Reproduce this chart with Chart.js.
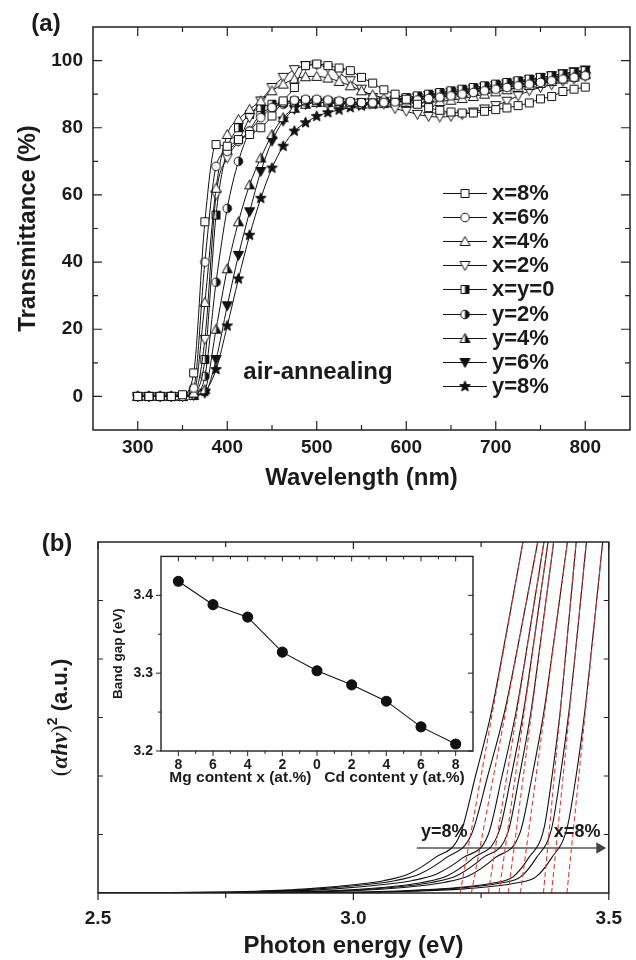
<!DOCTYPE html>
<html><head><meta charset="utf-8">
<script src="https://cdn.jsdelivr.net/npm/chart.js@4.4.1/dist/chart.umd.min.js"></script>
<style>
html,body{margin:0;padding:0;background:#fff;}
#wrap{position:relative;width:636px;height:960px;overflow:hidden;background:#fff;}
canvas{position:absolute;}
</style></head><body>
<div id="wrap">
<canvas id="ca" width="636" height="500" style="left:0;top:0"></canvas>
<canvas id="cb" width="636" height="465" style="left:0;top:495px"></canvas>
<canvas id="cc" width="390" height="250" style="left:100px;top:540px"></canvas>
</div>
<script>
// ================= DATA: panel (a) =================
const wavelength = [300,312.5,325,337.5,350,362.5,375,387.5,400,412.5,425,437.5,450,462.5,475,487.5,500,512.5,525,537.5,550,562.5,575,587.5,600,612.5,625,637.5,650,662.5,675,687.5,700,712.5,725,737.5,750,762.5,775,787.5,800];
const T_x8  = [0,0,0,0,0.5,7,52,75,74.5,76.5,78,80,83.5,88,92,98.5,99,98.5,97.8,97,95,93.3,91.3,90,88.5,87,86,85.2,84.7,84.4,84.4,84.9,85.4,85.9,86.6,87.4,88.6,89.3,90.8,91.5,92.1];
const T_x6  = [0,0,0,0,0,2.5,40,68.5,73,76,79,83,86,87.5,88.2,88.5,88.5,88.3,88,87.8,87.5,87.4,87.5,87.7,88,88.3,88.7,89.1,89.5,90,90.5,91,91.5,92,92.5,93,93.5,94,94.5,95,95.5];
const T_x4  = [0,0,0,0,0,1,28,62,78,82.5,85.5,88,91,93,94.5,95.2,95.3,94.8,93.8,92.5,91,89.8,88.8,88,87.5,87.4,87.5,87.8,88.2,88.7,89.3,90,90.7,91.3,92,92.6,93.2,93.8,94.5,95.1,95.8];
const T_x2  = [0,0,0,0,0,0.5,17,60,71,76,83,88,92,95,97.3,98.5,98.7,97.8,96.3,94,91.5,89,87,85.7,84.9,84,83.4,83.2,83.4,83.9,84.7,85.6,86.6,87.9,89.5,91,92,92.8,93.8,94.5,95.3];
const T_x0y0= [0,0,0,0,0,1,11,54,73.5,80,84,86,87,87.5,88,88.2,88.2,88,87.8,87.6,87.5,87.6,87.9,88.4,89,89.5,90,90.5,91,91.5,92,92.5,93,93.5,94,94.5,95,95.5,96,96.5,97];
const T_y2  = [0,0,0,0,0,0.5,6,34,56,70,79,84,86,87,87.5,87.7,87.6,87.4,87.2,87,87,87.2,87.5,88,88.5,89,89.5,90,90.5,91,91.5,92,92.5,93,93.5,94,94.5,95,95.5,96,96.5];
const T_y4  = [0,0,0,0,0,0.3,2,20,38,52,63,71,78,83,85.8,87,87.5,87.5,87.3,87.1,87,87.1,87.3,87.6,88,88.5,89,89.5,90,90.5,91,91.5,92,92.5,93,93.5,94,94.5,95,95.5,96];
const T_y6  = [0,0,0,0,0,0.3,1,11,27,42,55,67,76,82,85.5,87,87.5,87.6,87.5,87.4,87.4,87.5,87.8,88.2,88.6,89.1,89.6,90.1,90.6,91.1,91.6,92.1,92.6,93.1,93.7,94.3,94.9,95.5,96.1,96.7,97.2];
const T_y8  = [0,0,0,0,0,0.3,1.5,8,21,35,48,59,68,74.5,79,81.5,83.4,84.5,85.3,86,86.5,87,87.3,87.6,88,88.4,88.8,89.2,89.7,90.2,90.7,91.2,91.7,92.2,92.7,93.2,93.7,94.2,94.7,95.2,95.7];
const sampleLabels = ['x=8%','x=6%','x=4%','x=2%','x=y=0','y=2%','y=4%','y=6%','y=8%'];
const xTicksA = [300,400,500,600,700,800];
const yTicksA = [0,20,40,60,80,100];

// ================= DATA: panel (b) =================
// Tauc curves (photon energy eV, (alpha h nu)^2 a.u.), ordered y=8% ... x=8%
const tauc_y8   = [[2.5,0],[2.709,0.01],[2.809,0.03],[2.909,0.07],[3.009,0.15],[3.059,0.21],[3.109,0.33],[3.159,0.6],[3.209,1.0],[3.239,2.0],[3.269,3.05],[3.299,4.42],[3.329,5.86],[3.349,6.83]];
const tauc_y6   = [[2.5,0],[2.731,0.01],[2.831,0.03],[2.931,0.07],[3.031,0.15],[3.081,0.21],[3.131,0.33],[3.181,0.6],[3.231,1.0],[3.263,2.0],[3.296,3.1],[3.326,4.4],[3.356,5.78],[3.376,6.7]];
const tauc_y4   = [[2.5,0],[2.764,0.01],[2.864,0.03],[2.964,0.07],[3.064,0.15],[3.114,0.21],[3.164,0.33],[3.214,0.6],[3.264,1.0],[3.291,2.0],[3.319,3.12],[3.344,4.42],[3.369,5.78],[3.389,6.88]];
const tauc_y2   = [[2.5,0],[2.785,0.01],[2.885,0.02],[2.985,0.05],[3.085,0.12],[3.135,0.18],[3.185,0.3],[3.235,0.6],[3.285,1.05],[3.309,2.0],[3.333,3.1],[3.355,4.4],[3.377,5.75],[3.395,6.88]];
const tauc_x0y0 = [[2.5,0],[2.803,0.01],[2.903,0.02],[3.003,0.05],[3.103,0.12],[3.153,0.18],[3.203,0.3],[3.253,0.6],[3.303,1.05],[3.325,2.0],[3.348,3.12],[3.368,4.4],[3.388,5.73],[3.403,6.74]];
const tauc_x2   = [[2.5,0],[2.827,0.01],[2.927,0.02],[3.027,0.05],[3.127,0.12],[3.177,0.18],[3.227,0.3],[3.277,0.6],[3.327,1.05],[3.35,2.0],[3.373,3.1],[3.394,4.4],[3.415,5.74],[3.432,6.85]];
const tauc_x4   = [[2.5,0],[2.873,0.005],[2.973,0.01],[3.073,0.03],[3.173,0.07],[3.273,0.17],[3.313,0.28],[3.343,0.6],[3.373,1.1],[3.389,2.0],[3.405,3.12],[3.419,4.4],[3.433,5.7],[3.445,6.84]];
const tauc_x6   = [[2.5,0],[2.888,0.005],[2.988,0.01],[3.088,0.03],[3.188,0.07],[3.288,0.17],[3.328,0.28],[3.358,0.6],[3.388,1.1],[3.405,2.0],[3.422,3.1],[3.438,4.4],[3.453,5.72],[3.466,6.86]];
const tauc_x8   = [[2.5,0],[2.918,0.005],[3.018,0.01],[3.118,0.03],[3.218,0.07],[3.318,0.17],[3.358,0.28],[3.388,0.6],[3.418,1.1],[3.436,2.0],[3.453,3.1],[3.469,4.4],[3.485,5.74],[3.498,6.86]];
// linear fits: x-intercept (band gap) and energy where fit reaches the top of the frame (y = 6)
const fitIntercept = [3.209,3.231,3.264,3.285,3.303,3.327,3.372,3.388,3.418];
const fitTopE      = [3.332,3.361,3.373,3.381,3.392,3.419,3.436,3.456,3.488];
const xTicksB = [2.5,3.0,3.5];
const arrowFrom = [3.124,0.77], arrowTo = [3.482,0.77];

// Inset: band gap vs content
const insetX = [0,1,2,3,4,5,6,7,8];
const insetTickLabels = ['8','6','4','2','0','2','4','6','8'];
const bandGap = [3.418,3.388,3.372,3.327,3.303,3.285,3.264,3.231,3.209];
const insetYTicks = [3.2,3.3,3.4];

// ================= helpers =================
const FONT = '"Liberation Sans", Arial, Helvetica, sans-serif';
const INK = '#1b1b1b';
Chart.defaults.font.family = FONT;
Chart.defaults.color = INK;

function makeMarker(shape, fill) {
  const s = 13, c = document.createElement('canvas'); c.width = s; c.height = s;
  const g = c.getContext('2d'); const m = 6.5;
  g.lineWidth = 1; g.strokeStyle = '#111';
  const path = () => { g.beginPath();
    if (shape === 'square') g.rect(m-4, m-4, 8, 8);
    else if (shape === 'circle') g.arc(m, m, 4.3, 0, 2*Math.PI);
    else if (shape === 'tri') { g.moveTo(m, m-5); g.lineTo(m+5, m+4); g.lineTo(m-5, m+4); g.closePath(); }
    else if (shape === 'tridown') { g.moveTo(m, m+5); g.lineTo(m+5, m-4); g.lineTo(m-5, m-4); g.closePath(); }
    else if (shape === 'star') { for (let i=0;i<10;i++){ const r = i%2?2.4:5.6; const a = -Math.PI/2 + i*Math.PI/5; const x=m+r*Math.cos(a), y=m+r*Math.sin(a); if(i) g.lineTo(x,y); else g.moveTo(x,y);} g.closePath(); }
  };
  path(); g.fillStyle = fill === 'full' ? '#111' : '#fff'; g.fill();
  if (fill === 'half') { g.save(); path(); g.clip(); g.fillStyle = '#111'; g.fillRect(m, 0, m, s); g.restore(); }
  path(); g.stroke();
  return c;
}

function frameTicks(o) {
  return { id: 'frameTicks', afterDatasetsDraw(chart) {
    const ctx = chart.ctx, a = chart.chartArea, xs = chart.scales.x, ys = chart.scales.y;
    ctx.save();
    ctx.strokeStyle = '#222'; ctx.lineWidth = o.tickWidth || 1.2;
    ctx.beginPath();
    const xt = (vals, len) => vals.forEach(v => { const p = xs.getPixelForValue(v);
      if (o.bottom) { ctx.moveTo(p, a.bottom); ctx.lineTo(p, a.bottom - o.bottom*len); }
      if (o.top) { ctx.moveTo(p, a.top); ctx.lineTo(p, a.top + o.top*len); } });
    const yt = (vals, len) => vals.forEach(v => { const p = ys.getPixelForValue(v);
      if (o.left) { ctx.moveTo(a.left, p); ctx.lineTo(a.left + o.left*len, p); }
      if (o.right) { ctx.moveTo(a.right, p); ctx.lineTo(a.right - o.right*len, p); } });
    xt(o.xMajor, o.xMajorLen); xt(o.xMinor, o.xMinorLen);
    yt(o.yMajor, o.yMajorLen); yt(o.yMinor, o.yMinorLen);
    ctx.stroke();
    ctx.lineWidth = o.frameWidth || 1.5;
    ctx.strokeRect(a.left, a.top, a.right - a.left, a.bottom - a.top);
    ctx.restore();
  }};
}
function textPlugin(items) {
  return { id: 'texts', afterDraw(chart) {
    const ctx = chart.ctx; ctx.save(); ctx.fillStyle = INK; ctx.textBaseline = 'middle';
    items.forEach(t => { ctx.font = t.font; ctx.textAlign = t.align || 'center';
      let x = t.x, y = t.y;
      if (t.data) { x = chart.scales.x.getPixelForValue(t.data[0]); y = chart.scales.y.getPixelForValue(t.data[1]); }
      ctx.fillText(t.text, x, y); });
    ctx.restore();
  }};
}

// ================= Chart (a) =================
const seriesA = [T_x8, T_x6, T_x4, T_x2, T_x0y0, T_y2, T_y4, T_y6, T_y8];
const markersA = [makeMarker('square','open'), makeMarker('circle','open'), makeMarker('tri','open'), makeMarker('tridown','open'),
  makeMarker('square','half'), makeMarker('circle','half'), makeMarker('tri','half'), makeMarker('tridown','full'), makeMarker('star','full')];

const legendA = { id: 'legendA', afterDraw(chart) {
  const ctx = chart.ctx; ctx.save();
  chart.data.datasets.forEach((ds, i) => {
    const y = 193 + i*24.1;
    ctx.strokeStyle = '#111'; ctx.lineWidth = 1;
    ctx.beginPath(); ctx.moveTo(443, Math.round(y)+0.5); ctx.lineTo(487, Math.round(y)+0.5); ctx.stroke();
    const img = ds.pointStyle; ctx.drawImage(img, 465 - 6.5, Math.round(y) - 6);
    ctx.fillStyle = INK; ctx.font = 'bold 22px ' + FONT; ctx.textAlign = 'left'; ctx.textBaseline = 'middle';
    ctx.fillText(ds.label, 492, y + 1);
  });
  ctx.restore();
}};

new Chart(document.getElementById('ca'), {
  type: 'scatter',
  data: { datasets: seriesA.map((arr, i) => ({
    label: sampleLabels[i],
    data: wavelength.map((w, j) => ({ x: w, y: arr[j] })),
    showLine: true, borderColor: '#111', borderWidth: 1, cubicInterpolationMode: 'monotone',
    pointStyle: markersA[i], pointRadius: 5
  })) },
  options: {
    responsive: false, animation: false, devicePixelRatio: 1,
    layout: { padding: { top: 27, right: 3, left: 0, bottom: 0 } },
    plugins: { legend: { display: false }, tooltip: { enabled: false } },
    scales: {
      x: { type: 'linear', min: 250, max: 850,
        afterFit(s) { s.height = 70; }, afterBuildTicks(s) { s.ticks = xTicksA.map(v => ({ value: v })); },
        grid: { display: false, drawTicks: false }, border: { display: false },
        ticks: { padding: 6, font: { size: 19, weight: 'bold' }, color: INK, maxRotation: 0, autoSkip: false, callback: v => String(v) },
        title: { display: true, text: 'Wavelength (nm)', font: { size: 24, weight: 'bold' }, color: INK, padding: { top: 0, bottom: 7 } } },
      y: { type: 'linear', min: -10, max: 110,
        afterFit(s) { s.width = 93; }, afterBuildTicks(s) { s.ticks = yTicksA.map(v => ({ value: v })); },
        grid: { display: false, drawTicks: false }, border: { display: false },
        ticks: { padding: 10, font: { size: 19, weight: 'bold' }, color: INK, callback: v => String(v) },
        title: { display: true, text: 'Transmittance (%)', font: { size: 24, weight: 'bold' }, color: INK, padding: { top: 14, bottom: 0 } } }
    }
  },
  plugins: [
    frameTicks({ bottom: 1, top: 1, left: 1, right: 1,
      xMajor: xTicksA, xMinor: [350,450,550,650,750], xMajorLen: 9, xMinorLen: 5,
      yMajor: yTicksA, yMinor: [10,30,50,70,90], yMajorLen: 9, yMinorLen: 5, frameWidth: 1.5 }),
    legendA,
    textPlugin([
      { text: '(a)', x: 46, y: 24, font: 'bold 24px ' + FONT },
      { text: 'air-annealing', x: 318, y: 372, font: 'bold 24px ' + FONT }
    ])
  ]
});

// ================= Chart (b) =================
const taucCurves = [tauc_y8, tauc_y6, tauc_y4, tauc_y2, tauc_x0y0, tauc_x2, tauc_x4, tauc_x6, tauc_x8];
const dsB = [];
fitIntercept.forEach((e0, i) => dsB.push({
  data: [{ x: e0, y: 0 }, { x: fitTopE[i], y: 6 }], showLine: true,
  borderColor: '#e8382f', borderWidth: 1.1, borderDash: [5, 3], pointRadius: 0 }));
taucCurves.forEach(c => dsB.push({
  data: c.map(p => ({ x: p[0], y: p[1] })), showLine: true,
  borderColor: '#111', borderWidth: 1.1, cubicInterpolationMode: 'monotone', pointRadius: 0 }));
dsB.push({ data: [{ x: arrowFrom[0], y: arrowFrom[1] }, { x: arrowTo[0], y: arrowTo[1] }], showLine: true,
  borderColor: '#555', borderWidth: 1.6, pointRadius: [0, 5], pointStyle: 'triangle', rotation: 90,
  pointBackgroundColor: '#444', pointBorderColor: '#444' });

const yTitleB = { id: 'yTitleB', afterDraw(chart) {
  const ctx = chart.ctx, a = chart.chartArea; ctx.save();
  ctx.translate(61, (a.top + a.bottom) / 2); ctx.rotate(-Math.PI / 2);
  ctx.fillStyle = INK; ctx.textBaseline = 'middle'; ctx.textAlign = 'left';
  const parts = [['(', '23px "Liberation Serif"', 0], ['\u03B1h\u03BD', 'italic bold 23px "Liberation Serif"', 0], [')', '23px "Liberation Serif"', 0],
    ['2', 'bold 14px ' + FONT, -8], [' (a.u.)', 'bold 22px ' + FONT, 0]];
  let w = 0; parts.forEach(p => { ctx.font = p[1]; w += ctx.measureText(p[0]).width; });
  let x = -w / 2; parts.forEach(p => { ctx.font = p[1]; ctx.fillText(p[0], x, p[2]); x += ctx.measureText(p[0]).width; });
  ctx.restore();
}};

new Chart(document.getElementById('cb'), {
  type: 'scatter',
  data: { datasets: dsB },
  options: {
    responsive: false, animation: false, devicePixelRatio: 1,
    layout: { padding: { top: 47, right: 19, left: 0, bottom: 0 } },
    plugins: { legend: { display: false }, tooltip: { enabled: false } },
    scales: {
      x: { type: 'linear', min: 2.5, max: 3.5,
        afterFit(s) { s.height = 67; }, afterBuildTicks(s) { s.ticks = xTicksB.map(v => ({ value: v })); },
        grid: { display: false, drawTicks: false }, border: { display: false },
        ticks: { padding: 14, font: { size: 19, weight: 'bold' }, color: INK, maxRotation: 0, autoSkip: false, callback: v => v.toFixed(1) },
        title: { display: true, text: 'Photon energy (eV)', font: { size: 24, weight: 'bold' }, color: INK, padding: { top: 0, bottom: -1 } } },
      y: { type: 'linear', min: 0, max: 6,
        afterFit(s) { s.width = 98; },
        grid: { display: false, drawTicks: false }, border: { display: false },
        ticks: { display: false }, title: { display: false } }
    }
  },
  plugins: [
    frameTicks({ bottom: -1, top: 1, left: 1, right: 1,
      xMajor: xTicksB, xMinor: [2.75, 3.25], xMajorLen: 7, xMinorLen: 5,
      yMajor: [1,2,3,4,5], yMinor: [], yMajorLen: 5, yMinorLen: 3, frameWidth: 1.5 }),
    yTitleB,
    textPlugin([
      { text: '(b)', x: 57, y: 49, font: 'bold 24px ' + FONT },
      { text: 'y=8%', data: [3.178, 1.04], font: 'bold 18px ' + FONT },
      { text: 'x=8%', data: [3.438, 1.04], font: 'bold 18px ' + FONT }
    ])
  ]
});

// ================= Inset =================
new Chart(document.getElementById('cc'), {
  type: 'scatter',
  data: { datasets: [{ data: insetX.map((x, i) => ({ x: x, y: bandGap[i] })), showLine: true,
    borderColor: '#111', borderWidth: 1.1, pointRadius: 5, pointBackgroundColor: '#111', pointBorderColor: '#111' }] },
  options: {
    responsive: false, animation: false, devicePixelRatio: 1,
    layout: { padding: { top: 12, right: 17, left: 0, bottom: 0 } },
    plugins: { legend: { display: false }, tooltip: { enabled: false } },
    scales: {
      x: { type: 'linear', min: -0.5, max: 8.5,
        afterFit(s) { s.height = 39; }, afterBuildTicks(s) { s.ticks = insetX.map(v => ({ value: v })); },
        grid: { display: false, drawTicks: false }, border: { display: false },
        ticks: { padding: 6, font: { size: 14, weight: 'bold' }, color: INK, maxRotation: 0, autoSkip: false, callback: v => insetTickLabels[v] },
        title: { display: true, text: 'Mg content x (at.%)   Cd content y (at.%)', font: { size: 15.5, weight: 'bold' }, color: INK, padding: { top: 0, bottom: 3 } } },
      y: { type: 'linear', min: 3.2, max: 3.45,
        afterFit(s) { s.width = 61; }, afterBuildTicks(s) { s.ticks = insetYTicks.map(v => ({ value: v })); },
        grid: { display: false, drawTicks: false }, border: { display: false },
        ticks: { padding: 8, font: { size: 14, weight: 'bold' }, color: INK, callback: v => v.toFixed(1) },
        title: { display: true, text: 'Band gap (eV)', font: { size: 13.5, weight: 'bold' }, color: INK, padding: { top: 10, bottom: 0 } } }
    }
  },
  plugins: [
    frameTicks({ bottom: -1, top: 1, left: -1, right: 1,
      xMajor: insetX, xMinor: [0.5,1.5,2.5,3.5,4.5,5.5,6.5,7.5], xMajorLen: 5, xMinorLen: 3,
      yMajor: insetYTicks, yMinor: [3.25, 3.35], yMajorLen: 5, yMinorLen: 3, frameWidth: 1.4, tickWidth: 1 })
  ]
});
</script>
</body></html>
